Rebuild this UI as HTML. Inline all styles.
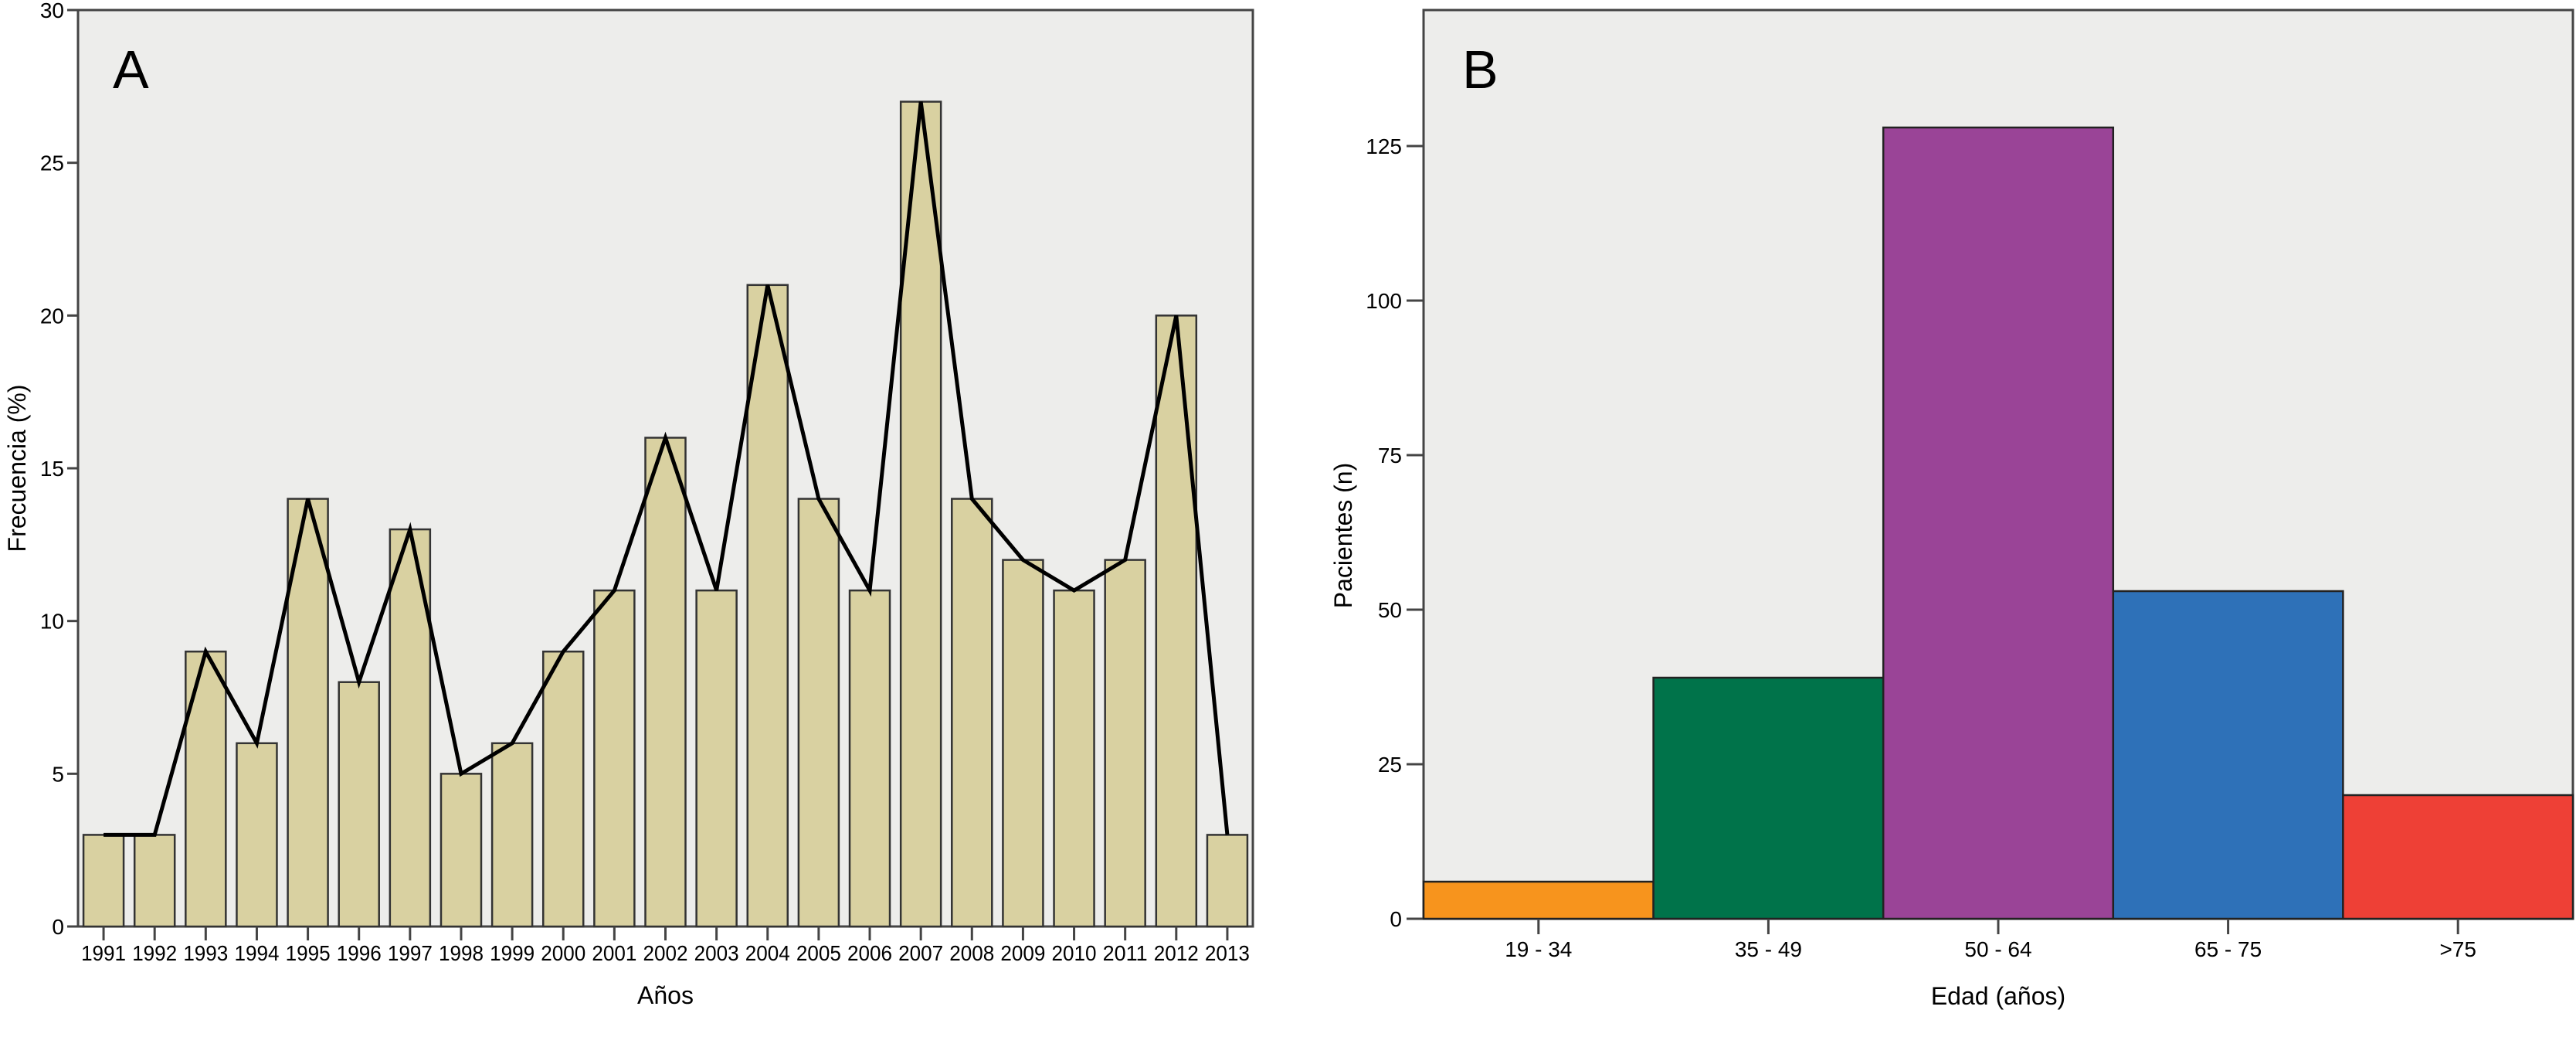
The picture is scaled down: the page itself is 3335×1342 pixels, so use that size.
<!DOCTYPE html>
<html><head><meta charset="utf-8"><style>
html,body{margin:0;padding:0;background:#fff;}
svg{display:block;font-family:"Liberation Sans",sans-serif;}
</style></head><body>
<svg id="c" width="3335" height="1342" viewBox="0 0 3335 1342" xmlns="http://www.w3.org/2000/svg">
<g id="A"></g>
<g id="B"></g>
</svg>
<script>
const yearsA = ["1991","1992","1993","1994","1995","1996","1997","1998","1999","2000","2001","2002","2003","2004","2005","2006","2007","2008","2009","2010","2011","2012","2013"];
const freqA = [3,3,9,6,14,8,13,5,6,9,11,16,11,21,14,11,27,14,12,11,12,20,3];
const ticksA = [0,5,10,15,20,25,30];
const catsB = ["19 - 34","35 - 49","50 - 64","65 - 75",">75"];
const countsB = [6,39,128,53,20];
const ticksB = [0,25,50,75,100,125];
const colorsB = ["#f7941d","#00734a","#9a4497","#2e71b8","#ee4036"];

const NS="http://www.w3.org/2000/svg";
function mk(parent,tag,attrs,text){const e=document.createElementNS(NS,tag);for(const k in attrs)e.setAttribute(k,attrs[k]);if(text!==undefined)e.textContent=text;parent.appendChild(e);return e;}

// Chart A
(function(){
  const g=document.getElementById('A');
  const L=101,R=1622,T=13,B0=1199,ymax=30;
  const y=v=>B0-(B0-T)*v/ymax;
  const step=(R-L)/yearsA.length;
  const x=i=>L+step*(i+0.5);
  const bw=52;
  let e=mk(g,'rect',{x:L,y:T,width:R-L,height:B0-T,fill:'#ededeb',stroke:'#444','stroke-width':3});
  
  
  ticksA.forEach(t=>{
    let l=mk(g,'line',{x1:L-14,x2:L,y1:y(t),y2:y(t),stroke:'#444','stroke-width':3});
    
    
    let tx=mk(g,'text',{x:L-18,y:y(t)+10,'text-anchor':'end','font-size':28},String(t));
    
    
  });
  freqA.forEach((v,i)=>{
    let r=mk(g,'rect',{x:x(i)-bw/2,y:y(v),width:bw,height:B0-y(v),fill:'#d9d1a1',stroke:'#333','stroke-width':2.5});
    
    
    let l=mk(g,'line',{x1:x(i),x2:x(i),y1:B0,y2:B0+18,stroke:'#444','stroke-width':3});
    
    
    let tx=mk(g,'text',{x:x(i),y:1243,'text-anchor':'middle','font-size':28,textLength:58,lengthAdjust:'spacingAndGlyphs'},yearsA[i]);
    
    
  });
  const pts=freqA.map((v,i)=>x(i)+','+y(v)).join(' ');
  let p=mk(g,'polyline',{points:pts,fill:'none',stroke:'#000','stroke-width':5,'stroke-linejoin':'miter'});
  
  
  let a=mk(g,'text',{x:146,y:114,'font-size':70},'A');
  
  
  let xt=mk(g,'text',{x:(L+R)/2,y:1299,'text-anchor':'middle','font-size':32},'Años');
  
  
  let yt=mk(g,'text',{x:0,y:0,'text-anchor':'middle','font-size':32,transform:'translate(33,606) rotate(-90)'},'Frecuencia (%)');
  
  
})();

// Chart B
(function(){
  const g=document.getElementById('B');
  const L=1843,R=3331,T=13,B0=1189,ymax=147;
  const y=v=>B0-(B0-T)*v/ymax;
  const step=(R-L)/catsB.length;
  let e=mk(g,'rect',{x:L,y:T,width:R-L,height:B0-T,fill:'#ededeb',stroke:'#444','stroke-width':3});
  
  
  ticksB.forEach(t=>{
    let l=mk(g,'line',{x1:L-22,x2:L,y1:y(t),y2:y(t),stroke:'#444','stroke-width':3});
    
    
    let tx=mk(g,'text',{x:L-28,y:y(t)+10,'text-anchor':'end','font-size':28},String(t));
    
    
  });
  countsB.forEach((v,i)=>{
    const x0=L+step*i;
    let r=mk(g,'rect',{x:x0,y:y(v),width:step,height:B0-y(v),fill:colorsB[i],stroke:'#222','stroke-width':2.5});
    
    
    let l=mk(g,'line',{x1:x0+step/2,x2:x0+step/2,y1:B0,y2:B0+20,stroke:'#444','stroke-width':3});
    
    
    let tx=mk(g,'text',{x:x0+step/2,y:1238,'text-anchor':'middle','font-size':28},catsB[i]);
    
    
  });
  let b=mk(g,'text',{x:1893,y:114,'font-size':70},'B');
  
  
  let xt=mk(g,'text',{x:(L+R)/2,y:1300,'text-anchor':'middle','font-size':32},'Edad (años)');
  
  
  let yt=mk(g,'text',{x:0,y:0,'text-anchor':'middle','font-size':32,transform:'translate(1750,693) rotate(-90)'},'Pacientes (n)');
  
  
})();
</script>
</body></html>
